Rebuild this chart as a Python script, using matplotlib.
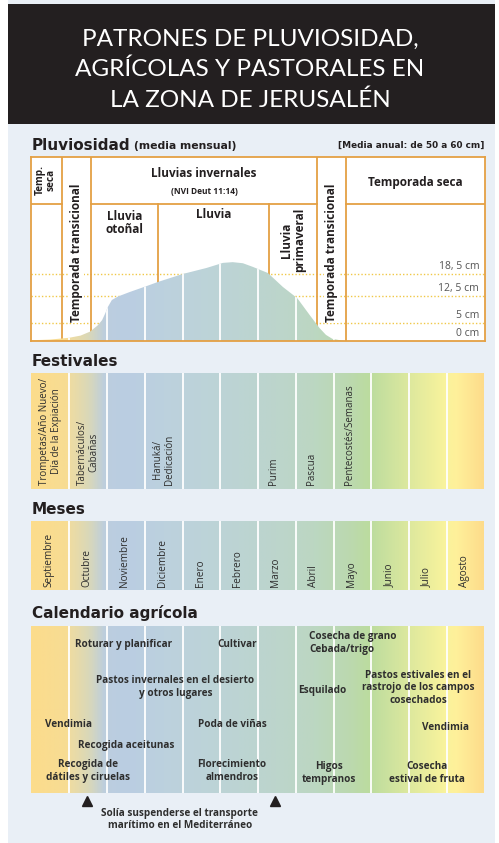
import numpy as np
import matplotlib
matplotlib.use('Agg')
import matplotlib.pyplot as plt
import matplotlib.transforms as mtransforms
from matplotlib.colors import LinearSegmentedColormap
from matplotlib.patches import Rectangle, Polygon

W, H, DPI = 499, 843, 100

# ---- data ----
titulo = ['PATRONES DE PLUVIOSIDAD,', 'AGRÍCOLAS Y PASTORALES EN', 'LA ZONA DE JERUSALÉN']
meses = ['Septiembre', 'Octubre', 'Noviembre', 'Diciembre', 'Enero', 'Febrero',
         'Marzo', 'Abril', 'Mayo', 'Junio', 'Julio', 'Agosto']

# rainfall profile (x in months from 1 Sept, y in cm)
lluvia_x = [0.0, 0.5, 1.0, 1.3, 1.55, 1.75, 1.87, 1.95, 2.02, 2.13, 2.3, 2.6, 3.06, 3.35,
            4.0, 4.64, 5.07, 5.33, 5.6, 5.86, 6.26, 6.66, 7.04, 7.37, 7.63, 7.8, 7.97, 8.29, 12.0]
lluvia_cm = [0.2, 0.4, 0.9, 1.5, 2.6, 4.3, 5.8, 7.6, 9.4, 11.4, 12.4, 13.6, 15.3, 16.4,
             18.6, 20.3, 21.7, 21.9, 21.6, 20.6, 18.9, 15.0, 11.9, 7.2, 3.6, 1.7, 0.6, 0.0, 0.0]
marcas_cm = [18.5, 12.5, 5, 0]
marcas_txt = ['18, 5 cm', '12, 5 cm', '5 cm', '0 cm']

festivales = ['Trompetas/Año Nuevo/\nDía de la Expiación', 'Tabernáculos/\nCabañas',
              'Hanuká/\nDedicación', 'Purim', 'Pascua', 'Pentecostés/Semanas']
festival_mes = [0, 1, 3, 6, 7, 8]

agricola = ['Roturar y planificar', 'Cultivar', 'Pastos invernales en el desierto\ny otros lugares',
            'Vendimia', 'Poda de viñas', 'Recogida aceitunas', 'Recogida de\ndátiles y ciruelas',
            'Florecimiento\nalmendros', 'Cosecha de grano\nCebada/trigo',
            'Pastos estivales en el\nrastrojo de los campos\ncosechados', 'Esquilado', 'Vendimia',
            'Higos\ntempranos', 'Cosecha\nestival de fruta']
agricola_mes = [2.45, 5.44, 3.81, 0.97, 5.31, 2.50, 1.50, 5.31, 7.35, 10.24, 7.70, 10.98, 7.88, 10.48]
transporte_mes = [1.47, 6.45]

# ---- styles ----
ORANGE = '#E4A044'
DARK = '#2E2E2E'
BG = '#E9EFF6'
BODY = 'Open Sans'
stops = [(0.0, '#FCDC8C'), (0.98, '#F7DC94'), (1.02, '#EEDCA2'), (1.5, '#DAD8B8'),
         (1.95, '#BCCEDF'), (2.5, '#BACDE2'), (3.5, '#BCD1DE'), (4.5, '#BDD3D9'),
         (5.5, '#BCD4D3'), (6.5, '#BCD5CC'), (7.5, '#BCD7C2'), (8.5, '#BBD9AE'),
         (9.0, '#BCDC9E'), (10.0, '#DCE89E'), (11.0, '#F9F39C'), (11.3, '#FFF09A'),
         (12.0, '#FDDC8B')]
cmap = LinearSegmentedColormap.from_list('meses', [(p / 12, c) for p, c in stops])
grad = np.linspace(0, 1, 800).reshape(1, -1)

fig = plt.figure(figsize=(W / DPI, H / DPI), dpi=DPI)
fig.patch.set_facecolor('white')


def px_axes(x0, y0, x1, y1):
    return fig.add_axes([x0 / W, 1 - y1 / H, (x1 - x0) / W, (y1 - y0) / H])


# background + header
bg = px_axes(0, 0, W, H)
bg.set_xlim(0, W)
bg.set_ylim(H, 0)
bg.axis('off')
bg.add_patch(Rectangle((8, 0), 487, H, color=BG, lw=0))
bg.add_patch(Rectangle((8, 4), 487, 120, color='#231F20', lw=0))
for i, line in enumerate(titulo):
    bg.text(250, 46 + 30.5 * i, line, ha='center', va='baseline', color='white',
            fontsize=17.5, family='Lato', fontweight='normal')

sec = dict(fontsize=11, family='DejaVu Sans', fontweight='bold', color='#231F20', va='baseline')
bg.text(32, 150, 'Pluviosidad', **sec)
bg.text(134, 149, '(media mensual)', fontsize=7.8, family='DejaVu Sans', fontweight='bold',
        color='#231F20', va='baseline')
bg.text(484, 148, '[Media anual: de 50 a 60 cm]', ha='right', fontsize=6.4, family='DejaVu Sans',
        fontweight='bold', color='#231F20', va='baseline')
bg.text(32, 366, 'Festivales', **sec)
bg.text(32, 514, 'Meses', **sec)
bg.text(32, 618, 'Calendario agrícola', **sec)

# ---- rainfall panel ----
YMAX = 184 / 3.6
ax = px_axes(31.5, 157, 484.5, 341)
ax.set_facecolor('white')
ax.set_xlim(0, 12)
ax.set_ylim(0, YMAX)
ax.set_xticks([])
ax.set_yticks([])
for s in ax.spines.values():
    s.set_color(ORANGE)
    s.set_linewidth(1.3)

for v in marcas_cm[:-1]:
    ax.axhline(v, color='#F0C848', lw=1, ls=(0, (1, 1.5)), zorder=1)

hy = (341 - 204) / 184
for x in [0.81, 1.58, 7.56, 8.33]:
    ax.axvline(x, color=ORANGE, lw=1.3, zorder=1.5)
for x in [3.35, 6.29]:
    ax.axvline(x, ymin=0, ymax=hy, color=ORANGE, lw=1.3, zorder=1.5)
for a, b in [(0, 0.81), (1.58, 7.56), (8.33, 12)]:
    ax.plot([a, b], [hy * YMAX] * 2, color=ORANGE, lw=1.3, zorder=1.5)

poly = Polygon(list(zip(lluvia_x, lluvia_cm)) + [(12, 0), (0, 0)], closed=True,
               facecolor='none', edgecolor='none')
ax.add_patch(poly)
im = ax.imshow(grad, cmap=cmap, extent=[0, 12, 0, YMAX], aspect='auto', zorder=2)
im.set_clip_path(poly)
wl = ax.vlines(range(1, 12), 0, YMAX, color='white', lw=1.3, zorder=2.5)
wl.set_clip_path(poly)
ax.set_xlim(0, 12)
ax.set_ylim(0, YMAX)

off = mtransforms.offset_copy(ax.transData, fig=fig, y=2, units='dots')
for v, t in zip(marcas_cm, marcas_txt):
    ax.text(11.86, v, t, transform=off, ha='right', va='bottom', fontsize=7.5,
            family=BODY, color='#555555', zorder=3)

hd = dict(family=BODY, fontweight='bold', color='#231F20', zorder=4,
          transform=ax.get_xaxis_transform())
ax.text(0.38, 0.875, 'Temp.\nseca', rotation=90, ha='center', va='center', fontsize=7.2,
        linespacing=1.0, **hd)
for x in [1.19, 7.95]:
    ax.text(x, 0.103, 'Temporada transicional', rotation=90, ha='center', va='bottom',
            fontsize=8.5, bbox=dict(facecolor='white', edgecolor='none', pad=0.5), **hd)
ax.text(4.57, 0.913, 'Lluvias invernales', ha='center', va='center', fontsize=8.5, **hd)
ax.text(4.57, 0.815, '(NVI Deut 11:14)', ha='center', va='center', fontsize=6, **hd)
ax.text(2.46, 0.641, 'Lluvia\notoñal', ha='center', va='center', fontsize=8.5,
        linespacing=1.05, **hd)
ax.text(4.82, 0.685, 'Lluvia', ha='center', va='center', fontsize=8.5, **hd)
ax.text(6.93, 0.723, 'Lluvia\nprimaveral', rotation=90, ha='center', va='top', fontsize=8.5,
        linespacing=0.95, **hd)
ax.text(10.16, 0.864, 'Temporada seca', ha='center', va='center', fontsize=8.5, **hd)


def band(y0, y1):
    b = px_axes(31.5, y0, 484.5, y1)
    b.imshow(grad, cmap=cmap, extent=[0, 12, 0, 1], aspect='auto')
    b.vlines(range(1, 12), 0, 1, color='white', lw=1.3)
    b.set_xlim(0, 12)
    b.set_ylim(0, 1)
    b.axis('off')
    return b


# ---- festivals ----
fb = band(373, 489)
for name, m in zip(festivales, festival_mes):
    dx = 0.5 if '\n' in name else 0.42
    fb.text(m + dx, 0.035, name, rotation=90, ha='center', va='bottom', fontsize=7,
            family=BODY, color=DARK, linespacing=1.1)

# ---- months ----
mb = band(521, 590)
for i, name in enumerate(meses):
    mb.text(i + 0.47, 0.045, name, rotation=90, ha='center', va='bottom', fontsize=7.2,
            family=BODY, color=DARK)

# ---- agricultural calendar ----
ab = band(626, 793)
agri_y = [0.892, 0.892, 0.635, 0.413, 0.413, 0.287, 0.132, 0.132, 0.898, 0.629, 0.611,
          0.395, 0.120, 0.120]
for name, m, y in zip(agricola, agricola_mes, agri_y):
    ha = 'left' if name.startswith('Cosecha de grano') else 'center'
    ab.text(m, y, name, ha=ha, va='center', fontsize=7.2, family=BODY, fontweight='bold',
            color=DARK, linespacing=1.15, multialignment='left' if ha == 'left' else 'center')
ab.plot(transporte_mes, [-0.05, -0.05], marker='^', ms=7, color='#231F20', ls='none',
        clip_on=False)
ab.text(3.93, -0.16, 'Solía suspenderse el transporte\nmarítimo en el Mediterráneo',
        ha='center', va='center', fontsize=7.2, family=BODY, fontweight='bold',
        color=DARK, linespacing=1.15)

fig.savefig('out.png', dpi=DPI, facecolor=fig.get_facecolor())
